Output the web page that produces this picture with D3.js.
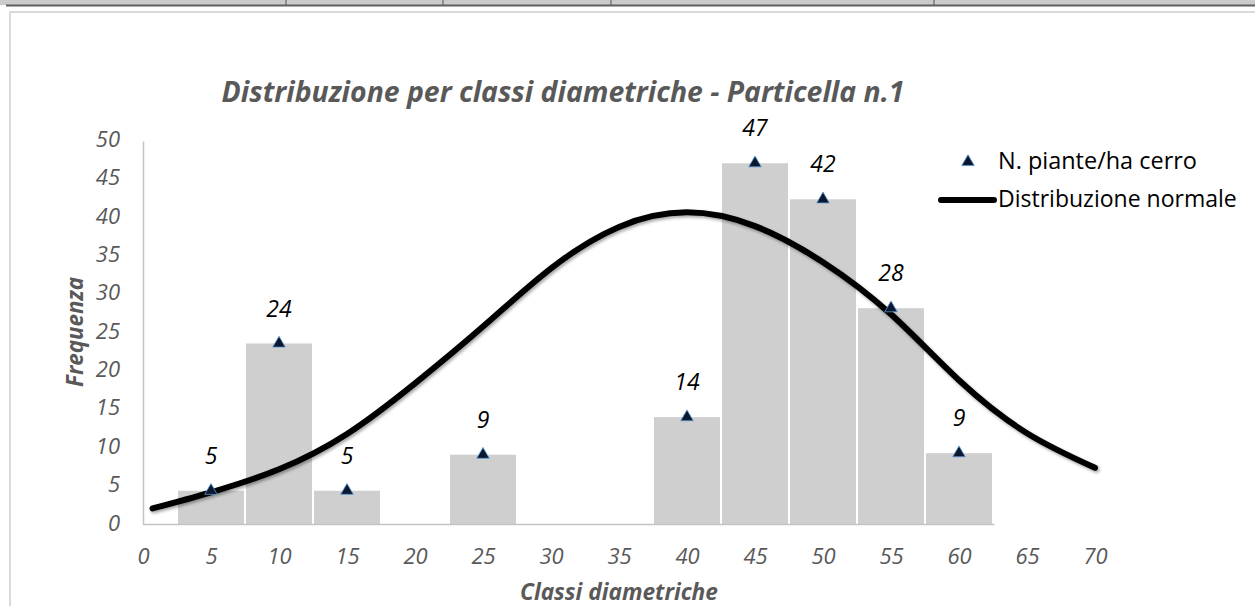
<!DOCTYPE html>
<html>
<head>
<meta charset="utf-8">
<script src="https://cdn.jsdelivr.net/npm/d3@7"></script>
<style>
  body { margin: 0; background: #fff; }
  svg { display: block; }
</style>
</head>
<body>
<div id="chart"></div>
<script>
// data
const classes = [5, 10, 15, 25, 40, 45, 50, 55, 60];
const piante = [4.4, 23.6, 4.4, 9.1, 14, 47.1, 42.4, 28.2, 9.3];
const pianteLabels = ["5", "24", "5", "9", "14", "47", "42", "28", "9"];

const normX = [0.7, 5, 10, 15, 20, 25, 30, 35, 40, 45, 50, 55, 60, 65, 70];
const normY = [2.1, 4.2, 7.2, 11.8, 18.4, 25.8, 33.4, 38.8, 40.7, 38.9, 34.2, 27.4, 18.8, 11.9, 7.4];

const xTicks = [0, 5, 10, 15, 20, 25, 30, 35, 40, 45, 50, 55, 60, 65, 70];
const yTicks = [0, 5, 10, 15, 20, 25, 30, 35, 40, 45, 50];

const width = 1255;
const height = 606;
const margin = { top: 141, right: 160, bottom: 81.5, left: 143 };
const font = "'Open Sans', 'Noto Sans', sans-serif";
const grey = "#595959";

const svg = d3
  .select("#chart")
  .append("svg")
  .attr("width", width)
  .attr("height", height)
  .style("font-family", font);

// page bits around the chart (table strip + chart frame)
svg.append("rect").attr("x", 0).attr("y", 0).attr("width", width).attr("height", 5).attr("fill", "#cbcbcb");
svg.append("line").attr("x1", 6).attr("x2", width).attr("y1", 5.5).attr("y2", 5.5).attr("stroke", "#5f5f5f").attr("stroke-width", 2);
[286, 443, 611, 934].forEach((px) => {
  svg.append("line").attr("x1", px).attr("x2", px).attr("y1", 0).attr("y2", 5).attr("stroke", "#555").attr("stroke-width", 1);
});
svg
  .append("rect")
  .attr("x", 10)
  .attr("y", 12)
  .attr("width", width + 20)
  .attr("height", height + 20)
  .attr("fill", "none")
  .attr("stroke", "#dadada")
  .attr("stroke-width", 2);

// fit a text to a target width by scaling its font size
function fit(sel, w) {
  const len = sel.node().getComputedTextLength();
  const fs = parseFloat(sel.attr("font-size"));
  sel.attr("font-size", (fs * w) / len);
  return sel;
}

// scales
const x = d3.scaleLinear().domain([0, 70]).range([margin.left, width - margin.right]);
const y = d3.scaleLinear().domain([0, 50]).range([height - margin.bottom, margin.top]);

// shadow for the curve
const defs = svg.append("defs");
defs
  .append("filter")
  .attr("id", "shadow")
  .attr("x", "-10%")
  .attr("y", "-10%")
  .attr("width", "120%")
  .attr("height", "130%")
  .append("feDropShadow")
  .attr("dx", 1.5)
  .attr("dy", 2)
  .attr("stdDeviation", 1.5)
  .attr("flood-color", "#000")
  .attr("flood-opacity", 0.35);

// Bars
const half = 2.5;
svg
  .append("g")
  .selectAll("rect")
  .data(classes)
  .join("rect")
  .attr("x", (d) => x(d - half) + 1)
  .attr("y", (d, i) => y(piante[i]))
  .attr("width", (d) => x(d + half) - x(d - half) - 2)
  .attr("height", (d, i) => y(0) - y(piante[i]))
  .attr("fill", "#d0cfcf");

// y axis
const yAxis = svg
  .append("g")
  .attr("transform", `translate(${margin.left},0)`)
  .call(d3.axisLeft(y).tickValues(yTicks).tickSize(0).tickSizeOuter(0).tickPadding(23));
yAxis.select(".domain").attr("stroke", "#c4c4c4").attr("stroke-width", 1.5);
yAxis
  .selectAll("text")
  .attr("font-size", 22)
  .attr("font-style", "italic")
  .attr("fill", grey)
  .attr("font-family", font)
  .attr("dy", "0.25em");

// x axis
svg
  .append("line")
  .attr("x1", x(0))
  .attr("x2", x(62.6))
  .attr("y1", y(0))
  .attr("y2", y(0))
  .attr("stroke", "#c4c4c4")
  .attr("stroke-width", 1.5);
const xAxis = svg
  .append("g")
  .attr("transform", `translate(0,${y(0)})`)
  .call(d3.axisBottom(x).tickValues(xTicks).tickSize(0).tickSizeOuter(0));
xAxis.select(".domain").remove();
xAxis
  .selectAll("text")
  .attr("font-size", 22)
  .attr("font-style", "italic")
  .attr("fill", grey)
  .attr("font-family", font)
  .attr("y", 32)
  .attr("dy", "0.35em");

// Normal curve
const line = d3
  .line()
  .x((d) => x(d[0]))
  .y((d) => y(d[1]))
  .curve(d3.curveNatural);
svg
  .append("path")
  .datum(normX.map((v, i) => [v, normY[i]]))
  .attr("d", line)
  .attr("fill", "none")
  .attr("stroke", "#000")
  .attr("stroke-width", 6)
  .attr("stroke-linecap", "round")
  .attr("filter", "url(#shadow)");

// Points + labels
const tri = d3.symbol(d3.symbolTriangle, 68);
svg
  .append("g")
  .selectAll("path")
  .data(classes)
  .join("path")
  .attr("d", tri)
  .attr("transform", (d, i) => `translate(${x(d)},${y(piante[i])})`)
  .attr("fill", "#0b1830")
  .attr("stroke", "#5b9bd5")
  .attr("stroke-width", 0.8);

svg
  .append("g")
  .selectAll("text")
  .data(classes)
  .join("text")
  .attr("x", (d) => x(d))
  .attr("y", (d, i) => y(piante[i]) - 35)
  .attr("dy", "0.35em")
  .attr("text-anchor", "middle")
  .attr("font-size", 23)
  .attr("font-style", "italic")
  .attr("fill", "#000")
  .text((d, i) => pianteLabels[i]);

// Title
const title = svg
  .append("text")
  .attr("x", 563)
  .attr("y", 92)
  .attr("dy", "0.35em")
  .attr("text-anchor", "middle")
  .attr("font-size", 26)
  .attr("font-weight", "bold")
  .attr("font-style", "italic")
  .attr("fill", grey)
  .text("Distribuzione per classi diametriche - Particella n.1");
fit(title, 683);

// Axis titles
const xTitle = svg
  .append("text")
  .attr("x", 619)
  .attr("y", 592)
  .attr("dy", "0.35em")
  .attr("text-anchor", "middle")
  .attr("font-size", 19)
  .attr("font-weight", "bold")
  .attr("font-style", "italic")
  .attr("fill", grey)
  .text("Classi diametriche");
fit(xTitle, 198);

const yTitle = svg
  .append("text")
  .attr("transform", "translate(75,332) rotate(-90)")
  .attr("dy", "0.35em")
  .attr("text-anchor", "middle")
  .attr("font-size", 19)
  .attr("font-weight", "bold")
  .attr("font-style", "italic")
  .attr("fill", grey)
  .text("Frequenza");
fit(yTitle, 110);

// Legend
const legend = svg.append("g");
legend
  .append("path")
  .attr("d", tri)
  .attr("transform", "translate(968,162)")
  .attr("fill", "#0b1830")
  .attr("stroke", "#5b9bd5")
  .attr("stroke-width", 0.8);
const l1 = legend
  .append("text")
  .attr("x", 998)
  .attr("y", 161)
  .attr("dy", "0.35em")
  .attr("font-size", 19)
  .attr("fill", "#000")
  .text("N. piante/ha cerro");
fit(l1, 199);
legend
  .append("line")
  .attr("x1", 941)
  .attr("x2", 994)
  .attr("y1", 200)
  .attr("y2", 200)
  .attr("stroke", "#000")
  .attr("stroke-width", 6)
  .attr("stroke-linecap", "round");
const l2 = legend
  .append("text")
  .attr("x", 998)
  .attr("y", 199)
  .attr("dy", "0.35em")
  .attr("font-size", 19)
  .attr("fill", "#000")
  .text("Distribuzione normale");
fit(l2, 239);
</script>
</body>
</html>
